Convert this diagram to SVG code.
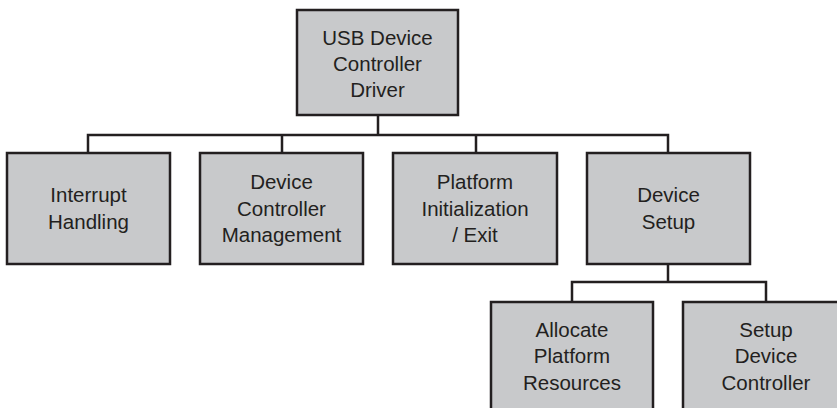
<svg xmlns="http://www.w3.org/2000/svg" width="837" height="408" viewBox="0 0 837 408">
<style>
.box{fill:#c8c9cb;stroke:#231f20;stroke-width:2.5}
.lbl{font-family:"Liberation Sans",Arial,sans-serif;font-size:20.5px;fill:#231f20;text-anchor:middle}
.conn{fill:none;stroke:#231f20;stroke-width:2.5}
</style>
<rect width="837" height="408" fill="#ffffff"/>
<g id="connectors">
<path class="conn" d="M378 115V135M88 153V135H668V153M282 135V153M476 135V153"/>
<path class="conn" d="M668 264V282M572 302V282H766V302"/>
</g>
<g id="usb-driver">
<rect class="box" x="297" y="10" width="161" height="105"/>
<text class="lbl" x="377.5" y="45">USB Device</text>
<text class="lbl" x="377.5" y="71">Controller</text>
<text class="lbl" x="377.5" y="97">Driver</text>
</g>
<g id="interrupt">
<rect class="box" x="7" y="153" width="163" height="111"/>
<text class="lbl" x="88.5" y="202">Interrupt</text>
<text class="lbl" x="88.5" y="228.5">Handling</text>
</g>
<g id="dev-mgmt">
<rect class="box" x="200" y="153" width="163" height="111"/>
<text class="lbl" x="281.5" y="189">Device</text>
<text class="lbl" x="281.5" y="215.5">Controller</text>
<text class="lbl" x="281.5" y="242">Management</text>
</g>
<g id="platform-init">
<rect class="box" x="393" y="153" width="164" height="111"/>
<text class="lbl" x="475" y="189">Platform</text>
<text class="lbl" x="475" y="215.5">Initialization</text>
<text class="lbl" x="475" y="242">/ Exit</text>
</g>
<g id="device-setup">
<rect class="box" x="587" y="153" width="163" height="111"/>
<text class="lbl" x="668.5" y="202">Device</text>
<text class="lbl" x="668.5" y="228.5">Setup</text>
</g>
<g id="allocate">
<rect class="box" x="491" y="302" width="162" height="115"/>
<text class="lbl" x="572" y="337">Allocate</text>
<text class="lbl" x="572" y="363">Platform</text>
<text class="lbl" x="572" y="389.5">Resources</text>
</g>
<g id="setup-ctrl">
<rect class="box" x="683" y="302" width="166" height="115"/>
<text class="lbl" x="766" y="337">Setup</text>
<text class="lbl" x="766" y="363">Device</text>
<text class="lbl" x="766" y="389.5">Controller</text>
</g>
</svg>
